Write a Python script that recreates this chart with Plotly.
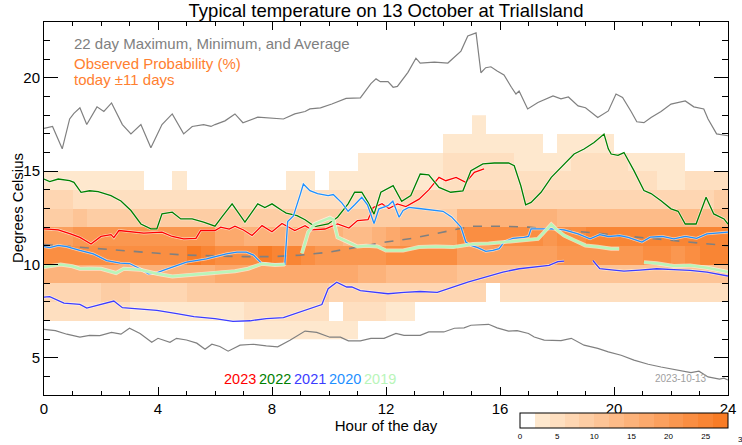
import plotly.graph_objects as go

# ---------------- data ----------------
hour_edges = [i * 0.5 for i in range(49)]          # 0 .. 24, half-hour bins
temp_edges = list(range(6, 19))                     # 6 .. 18 degC, 1-degree bins

# observed probability (%) per half-hour column, one list per temperature bin (lowest first)
prob_6 = [0,0,0,0,0,0,0,0,0,0,0,0,  0,0,3,3,3,3,3,3,3,3,0,0,  0,0,0,0,0,0,0,0,0,0,0,0,  0,0,0,0,0,0,0,0,0,0,0,0]
prob_7 = [5,5,5,5,5,5,3,3,3,3,3,3,  3,3,4,4,4,4,4,4,0,4,4,4,  3,3,0,0,0,0,0,0,0,0,0,0,  0,0,0,0,0,0,0,0,0,0,0,0]
prob_8 = [7,7,7,7,8,8,7,7,7,7,8,8,  9,9,9,8,8,8,8,8,7,7,7,7,  6,6,6,6,6,6,6,0,5,5,5,5,  4,4,4,4,4,4,4,4,5,5,5,5]
prob_9 = [15,15,14,14,14,14,14,14,14,14,15,15,  17,17,17,17,17,17,16,16,16,16,15,14,  13,13,13,13,12,11,10,10,10,10,10,10,  10,10,10,10,10,10,10,10,10,10,11,11]
prob_10 = [22,22,22,22,22,22,22,22,22,23,26,25,  22,22,23,26,24,24,22,21,21,20,20,20,  22,22,22,22,22,19,18,18,18,18,18,18,  20,20,21,21,21,21,22,22,21,22,24,24]
prob_11 = [19,19,20,20,20,20,20,20,20,20,20,20,  16,16,15,15,15,14,14,14,14,13,13,15,  17,18,18,18,18,22,22,22,22,22,22,21,  22,23,24,25,25,25,25,25,25,25,24,24]
prob_12 = [8,8,10,8,8,8,9,8,8,8,9,9,  8,8,8,8,8,8,8,8,8,8,8,9,  9,9,9,9,9,14,15,15,15,15,15,14,  13,13,13,13,12,12,12,12,12,12,12,12]
prob_13 = [6,6,5,5,5,4,4,4,4,4,5,5,  4,4,4,4,4,5,5,5,5,5,5,5,  5,6,6,6,7,7,7,7,7,7,7,7,  7,7,7,7,7,7,7,7,7,7,7,8]
prob_14 = [3,3,3,3,3,3,3,0,0,3,0,0,  0,0,0,0,0,3,3,0,3,3,3,3,  3,3,3,3,5,5,5,5,5,5,5,5,  5,5,5,5,5,5,5,3,3,5,5,5]
prob_15 = [0,0,0,0,0,0,0,0,0,0,0,0,  0,0,0,0,0,0,0,0,0,0,3,3,  3,3,3,3,4,4,4,4,4,3,3,3,  3,4,4,4,4,3,3,3,3,0,0,0]
prob_16 = [0,0,0,0,0,0,0,0,0,0,0,0,  0,0,0,0,0,0,0,0,0,0,0,0,  0,0,0,0,3,3,3,3,3,3,3,0,  3,3,3,3,0,0,0,0,0,0,0,0]
prob_17 = [0,0,0,0,0,0,0,0,0,0,0,0,  0,0,0,0,0,0,0,0,0,0,0,0,  0,0,0,0,0,0,3,0,0,0,0,0,  0,0,0,0,0,0,0,0,0,0,0,0]
prob_rows = [prob_6, prob_7, prob_8, prob_9, prob_10, prob_11, prob_12,
             prob_13, prob_14, prob_15, prob_16, prob_17]

# 22-day maximum / minimum / average
max_x = [0, 0.3, 0.64, 0.9, 1.05, 1.26, 1.5, 1.86, 2.1, 2.37, 2.75, 3.05, 3.4, 3.75, 4.14, 4.5, 4.9, 5.2,
         5.6, 5.86, 6.0, 6.35, 6.7, 6.98, 7.5, 8.1, 8.4, 8.8, 9.16, 9.33, 9.7, 10.1, 10.6, 11.1, 11.47,
         11.65, 11.8, 12.07, 12.25, 12.4, 12.77, 13.05, 13.2, 13.7, 14.17, 14.63, 14.87, 15.16, 15.33,
         15.5, 15.68, 15.9, 16.14, 16.4, 16.56, 16.67, 16.97, 17.33, 17.86, 18.14, 18.4, 18.74, 19.0,
         19.43, 19.8, 20.07, 20.3, 20.6, 20.8, 21.05, 21.3, 21.65, 22.0, 22.5, 22.8, 23.15, 23.3, 23.6, 24.0]
max_y = [17.3, 17.4, 16.2, 17.8, 18.1, 18.4, 17.5, 18.45, 18.2, 18.66, 17.5, 17.0, 17.5, 16.26, 17.5,
         18.07, 17.0, 17.4, 17.5, 17.4, 17.5, 17.7, 18.07, 17.6, 17.9, 17.86, 17.8, 18.07, 18.2, 18.34,
         18.4, 18.6, 18.9, 18.93, 19.7, 19.95, 19.8, 19.8, 19.5, 19.55, 20.3, 21.06, 20.8, 20.85, 20.8,
         21.44, 22.25, 22.42, 20.28, 20.55, 20.6, 20.37, 20.16, 19.5, 19.14, 19.3, 18.34, 18.68, 19.04,
         18.88, 18.98, 18.5, 18.4, 17.88, 18.23, 19.14, 18.95, 18.2, 17.65, 17.6, 17.88, 18.2, 18.6,
         18.77, 18.45, 18.34, 17.8, 17.0, 16.9]
min_x = [0, 0.4, 0.8, 1.26, 1.6, 1.96, 2.37, 2.7, 3.0, 3.37, 3.78, 4.0, 4.42, 4.65, 5.0, 5.36, 5.65, 5.89,
         6.17, 6.46, 6.88, 7.35, 7.8, 8.2, 8.63, 9.16, 9.57, 10.03, 10.4, 10.68, 11.1, 11.47, 11.93,
         12.35, 12.63, 13.2, 13.5, 14.03, 14.4, 14.74, 14.98, 15.6, 15.9, 16.3, 16.6, 17.0, 17.2, 17.55,
         18.14, 18.5, 18.95, 19.43, 19.8, 20.25, 20.7, 21.2, 21.65, 22.0, 22.46, 22.7, 22.98, 23.3, 23.7,
         23.86, 24.0]
min_y = [6.52, 6.45, 6.26, 6.1, 6.2, 6.18, 6.36, 6.26, 6.58, 6.3, 5.83, 6.04, 5.83, 6.04, 5.95, 5.78,
         5.45, 5.72, 5.6, 5.35, 5.67, 5.72, 5.63, 5.58, 5.94, 6.43, 6.36, 6.1, 6.1, 5.9, 5.9, 6.04, 6.04,
         6.3, 6.2, 6.2, 6.38, 6.38, 6.58, 6.6, 6.74, 6.79, 6.6, 6.43, 6.45, 6.3, 6.11, 5.94, 5.92, 6.04,
         5.67, 5.5, 5.31, 5.13, 4.87, 4.65, 4.5, 4.4, 4.3, 4.2, 4.28, 3.97, 3.85, 3.9, 3.8]
avg_x = [0, 1, 2, 3, 4, 5, 6, 7, 8, 9, 10, 11, 12, 13, 14, 15, 16, 17, 18, 19, 20, 21, 22, 23, 24]
avg_y = [11.07, 10.95, 10.8, 10.7, 10.6, 10.5, 10.45, 10.42, 10.42, 10.5, 10.66, 10.95, 11.2, 11.42,
         11.75, 12.05, 12.05, 12.0, 11.88, 11.73, 11.6, 11.45, 11.3, 11.15, 11.0]

# individual years
y2023_x = [0, 0.5, 0.93, 1.26, 1.65, 2.0, 2.35, 2.45, 2.63, 3.13, 3.5, 4.14, 4.5, 4.9, 5.33, 5.5, 6.0,
           6.2, 6.5, 6.7, 7.0, 7.3, 7.65, 8.0, 8.35, 8.8, 9.16, 9.4, 9.86, 10.3, 10.7, 11.0, 11.37,
           11.55, 11.86, 12.1, 12.4, 12.7, 13.16, 13.5, 13.86, 14.1, 14.46, 14.8, 15.1, 15.44]
y2023_y = [11.91, 11.85, 11.64, 11.45, 11.1, 11.5, 11.6, 11.44, 11.82, 11.72, 11.68, 11.73, 11.5, 11.37,
           11.4, 11.82, 11.82, 12.0, 11.9, 12.05, 11.85, 11.55, 12.08, 11.75, 12.2, 11.82, 12.08, 11.85,
           11.9, 12.17, 11.95, 12.35, 12.4, 13.05, 13.26, 13.0, 13.25, 13.1, 13.5, 14.0, 14.67, 14.49,
           14.67, 14.4, 14.94, 15.12]
y2022_x = [0, 0.2, 0.5, 0.9, 1.05, 1.3, 1.6, 1.9, 2.35, 2.7, 3.05, 3.4, 3.75, 3.96, 4.14, 4.5, 4.8, 5.2,
           5.6, 6.0, 6.23, 6.6, 7.05, 7.5, 7.75, 8.0, 8.35, 8.5, 8.88, 9.16, 9.5, 9.97, 10.3, 10.67, 10.9,
           11.15, 11.37, 11.58, 11.82, 12.25, 12.55, 12.87, 13.2, 13.5, 13.86, 14.27, 14.7, 14.98, 15.4,
           15.8, 16.3, 16.5, 16.73, 16.9, 17.09, 17.44, 17.8, 18.25, 18.6, 18.95, 19.3, 19.65, 19.8, 19.9,
           20.14, 20.35, 20.7, 21.05, 21.3, 21.65, 22.0, 22.25, 22.5, 22.88, 23.23, 23.5, 23.86, 24.0]
y2022_y = [14.58, 14.44, 14.58, 14.5, 14.4, 13.87, 13.95, 13.9, 13.69, 13.4, 12.89, 12.17, 11.91, 11.91,
           12.71, 12.8, 12.44, 12.44, 12.27, 12.05, 12.53, 13.25, 12.27, 13.25, 13.05, 13.25, 12.89,
           12.75, 12.62, 12.4, 12.03, 12.17, 12.53, 13.25, 13.87, 13.87, 13.33, 12.7, 13.87, 14.22, 13.38,
           13.7, 14.85, 14.8, 14.13, 13.87, 13.95, 15.03, 15.39, 15.44, 15.44, 15.29, 14.22, 13.2, 13.33,
           13.87, 14.67, 15.39, 15.92, 16.19, 16.54, 16.99, 16.2, 15.92, 15.85, 16.0, 15.03, 13.96, 13.8,
           13.42, 12.98, 12.85, 12.17, 12.17, 13.6, 12.71, 12.44, 12.17]
y2021_x = [0, 0.2, 0.7, 1.26, 1.5, 1.96, 2.1, 2.45, 2.75, 3.26, 3.96, 4.66, 5.26, 6.0, 6.63, 7.23, 7.8,
           8.4, 9.0, 9.57, 9.75, 9.97, 10.27, 10.62, 10.8, 11.1, 11.47, 12.07, 12.63, 13.2, 13.8, 14.4,
           14.87, 15.33, 15.5, 16.1, 16.67, 17.26, 17.72, 18.03, 18.25, None,
           19.26, 19.5, 20.0, 20.35, 20.9, 21.5, 22.1, 22.67, 23.26, 24.0]
y2021_y = [8.25, 8.27, 7.93, 7.86, 7.66, 7.86, 7.93, 8.04, 7.68, 7.63, 7.54, 7.36, 7.2, 7.1, 6.95, 6.98,
           7.1, 7.15, 7.45, 7.75, 7.85, 8.7, 9.05, 8.79, 8.8, 8.6, 8.55, 8.43, 8.5, 8.55, 8.5, 8.82, 9.05,
           9.25, 9.32, 9.59, 9.77, 9.85, 9.95, 10.15, 10.18, None,
           10.21, 9.77, 9.7, 9.64, 9.7, 9.77, 9.72, 9.68, 9.59, 9.38]
y2020_x = [0, 0.2, 0.5, 0.8, 1.26, 1.73, 2.2, 2.67, 3.0, 3.37, 3.66, 3.96, 4.18, 4.54, 5.0, 5.7, 6.4, 6.77,
           7.1, 7.35, 7.63, 8.0, 8.45, 8.55, 8.75, 9.0, 9.1, 9.33, 9.6, 9.97, 10.15, 10.45, 10.67, 10.9,
           11.15, 11.35, 11.58, 11.75, 12.07, 12.24, 12.46, 12.6, 12.8, 13.16, 13.5, 14.0, 14.3, 14.63,
           14.8, 14.98, 15.22, 15.5, 15.75, 15.97, 16.14, 16.45, 16.84, 17.0, 17.09, 17.5, 17.8, 18.25,
           18.74, 19.16, 19.5, 19.8, 20.2, 20.5, 20.98, 21.27, 21.7, 22.1, 22.5, 22.9, 23.26, 24.0]
y2020_y = [10.96, 10.9, 11.02, 10.95, 10.75, 10.57, 10.21, 10.07, 10.05, 9.77, 9.5, 9.55, 9.68, 9.86,
           10.12, 10.3, 10.57, 10.66, 10.66, 10.5, 10.07, 10.0, 10.0, 12.3, 12.6, 13.8, 14.31, 13.96,
           13.8, 13.69, 13.75, 13.3, 12.85, 13.2, 13.6, 13.2, 12.2, 12.98, 13.15, 13.39, 12.53, 12.9,
           13.06, 13.0, 12.95, 12.85, 12.55, 12.0, 11.2, 11.02, 10.9, 10.7, 10.75, 10.85, 11.2, 11.4,
           11.45, 11.5, 11.91, 11.9, 11.91, 11.85, 11.64, 11.37, 11.6, 11.5, 11.55, 11.45, 11.2, 11.46,
           11.5, 11.37, 11.5, 11.4, 11.64, 11.73]
y2019_x = [0, 0.3, 0.58, 1.0, 1.26, 1.6, 2.0, 2.53, 2.8, 3.37, 3.96, 4.5, 5.16, 5.5, 6.0, 6.7, 7.16, 7.65,
           8.1, 8.45, None,
           9.05, 9.27, 9.5, 9.8, 10.03, 10.15, 10.3, 10.67, 11.0, 11.3, 11.7, 12.0, 12.6, 13.16, 13.75,
           14.35, 14.7, 15.05, 15.6, 16.1, 16.67, 17.33, 17.6, 17.8, 18.0, 18.25, 18.6, 19.0, 19.43, 19.9,
           20.18, None,
           21.05, 21.5, 22.1, 22.67, 23.26, 23.65, 24.0]
y2019_y = [9.86, 9.92, 10.0, 9.9, 9.77, 9.78, 9.77, 9.54, 9.77, 9.72, 9.5, 9.36, 9.45, 9.5, 9.55, 9.64,
           9.77, 10.04, 9.97, 10.0, None,
           10.6, 11.73, 12.17, 12.35, 12.5, 12.4, 11.46, 11.2, 10.96, 11.0, 10.96, 10.75, 10.75, 10.93,
           10.96, 10.93, 11.0, 11.1, 11.12, 11.2, 11.28, 11.37, 11.82, 12.15, 11.85, 11.55, 11.3, 11.02,
           10.95, 10.84, 10.84, None,
           10.12, 10.06, 9.92, 9.95, 9.82, 9.68, 9.59]

year_labels = ["2023", "2022", "2021", "2020", "2019"]
year_colors = ["#ff0000", "#008000", "#3c3cff", "#1e90ff", "#b9f5b9"]

cbar_ticks = [0, 5, 10, 15, 20, 25]

# ---------------- style ----------------
FONT = "Liberation Sans, Arial, Helvetica, sans-serif"
band_colors = ["#ffffff", "#fee8ce", "#fedfc0", "#fed6b2", "#fdcda4", "#fdc496", "#fdbb88",
               "#fcb27a", "#fca96c", "#fba05e", "#fa9750", "#fa8e42", "#f98534", "#f87c26"]
nb = len(band_colors)
colorscale = []
for k, c in enumerate(band_colors):
    colorscale.append([k / nb, c])
    colorscale.append([(k + 1) / nb, c])

W, H = 742, 445
L, R, T, B = 44, 742 - 728, 22, 445 - 395
PW, PH = W - L - R, H - T - B


def px2paper(px, py):
    """window pixel -> paper coordinates"""
    return (px - L) / PW, (H - B - py) / PH


z = [[(v if v > 0 else None) for v in row] for row in prob_rows]

fig = go.Figure()
cb_x, cb_y = px2paper(520, 413)
fig.add_trace(go.Heatmap(
    x=hour_edges, y=temp_edges, z=z, zmin=0, zmax=28, colorscale=colorscale,
    hoverinfo="skip",
    colorbar=dict(orientation="h", x=cb_x, xanchor="left", y=cb_y, yanchor="top",
                  len=208, lenmode="pixels", thickness=15, xpad=0, ypad=0,
                  outlinewidth=1, outlinecolor="black", ticks="",
                  tickvals=cbar_ticks, tickfont=dict(size=8, family=FONT, color="black")),
))

fig.add_trace(go.Scatter(x=max_x, y=max_y, mode="lines", line=dict(color="#808080", width=1.2),
                         hoverinfo="skip", showlegend=False))
fig.add_trace(go.Scatter(x=min_x, y=min_y, mode="lines", line=dict(color="#808080", width=1.2),
                         hoverinfo="skip", showlegend=False))
fig.add_trace(go.Scatter(x=avg_x, y=avg_y, mode="lines", line=dict(color="#808080", width=1.6, dash="dash"),
                         hoverinfo="skip", showlegend=False))

series = [(y2023_x, y2023_y), (y2022_x, y2022_y), (y2021_x, y2021_y), (y2020_x, y2020_y), (y2019_x, y2019_y)]
for (sx, sy), col, lab in zip(series, year_colors, year_labels):
    w = 2.6 if lab == "2019" else 1.3
    fig.add_trace(go.Scatter(x=sx, y=sy, mode="lines", line=dict(color="white", width=w + 1.4),
                             opacity=0.6, hoverinfo="skip", showlegend=False, connectgaps=False))
    fig.add_trace(go.Scatter(x=sx, y=sy, mode="lines", line=dict(color=col, width=w),
                             hoverinfo="skip", showlegend=False, connectgaps=False, name=lab))

ann = []


def add_text(txt, px, py, size, color, xanchor="left", angle=0):
    xp, yp = px2paper(px, py)
    ann.append(dict(text=txt, x=xp, y=yp, xref="paper", yref="paper", xanchor=xanchor, yanchor="middle",
                    showarrow=False, textangle=angle, font=dict(family=FONT, size=size, color=color)))


add_text("22 day Maximum, Minimum, and Average", 72, 43, 15, "#808080")
add_text("Observed Probability (%)", 72, 64, 15, "#ff8030")
add_text("today \u00b111 days", 72, 79, 15, "#ff8030")
for i, (lab, col) in enumerate(zip(year_labels, year_colors)):
    add_text(lab, 222 + 35 * i, 379, 14.5, col)
add_text("2023-10-13", 709, 378, 10, "#a0a0a0", xanchor="right")
add_text("30", 742.5, 439, 8, "black", xanchor="center")
add_text("Degrees Celsius", 17, 208, 15, "black", xanchor="center", angle=-90)

axis_common = dict(showline=True, linecolor="black", linewidth=1, mirror="allticks", ticks="inside",
                   tickcolor="black", tickwidth=1, showgrid=False, zeroline=False,
                   tickfont=dict(family=FONT, size=15, color="black"))
fig.update_layout(
    width=W, height=H, margin=dict(l=L, r=R, t=T, b=B, pad=0, autoexpand=False),
    paper_bgcolor="white", plot_bgcolor="white", showlegend=False,
    title=dict(text="Typical temperature on 13 October at TrialIsland", x=386 / W, xanchor="center",
               y=1 - 11 / H, yanchor="middle", yref="container",
               font=dict(family=FONT, size=18.5, color="black")),
    xaxis=dict(range=[0, 24], tickvals=[0, 4, 8, 12, 16, 20, 24], ticklen=8,
               minor=dict(dtick=1, ticks="inside", ticklen=4, tickcolor="black", tickwidth=1, showgrid=False),
               title=dict(text="Hour of the day", font=dict(family=FONT, size=15, color="black"), standoff=4),
               **axis_common),
    yaxis=dict(range=[3, 23], tickvals=[5, 10, 15, 20], ticklen=14,
               minor=dict(dtick=1, ticks="inside", ticklen=6, tickcolor="black", tickwidth=1, showgrid=False),
               **axis_common),
    annotations=ann,
)

fig.write_html("out.html", config={"displayModeBar": False, "staticPlot": True},
               post_script="document.body.style.margin='0px';")
